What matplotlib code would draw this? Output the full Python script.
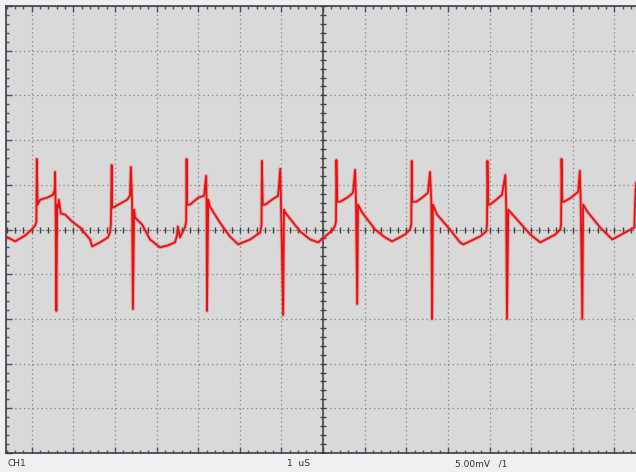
import numpy as np
import matplotlib
matplotlib.use('Agg')
from matplotlib import pyplot as plt

# scope settings
time_per_div = 1.0    # uS
volt_per_div = 5.0    # mV
channel = 'CH1'

# trace, time in uS, voltage in mV
t_us = [
    -7.62, -7.40, -7.16, -7.00, -6.92,
    -6.89, -6.88, -6.86, -6.80, -6.63, -6.49, -6.45, -6.44, -6.43, -6.41, -6.39,
    -6.37, -6.35, -6.30, -6.20, -6.03, -5.84, -5.60, -5.55, -5.36, -5.17, -5.12,
    -5.10, -5.08, -5.07, -5.05, -4.88, -4.71, -4.64, -4.62, -4.59, -4.57, -4.54,
    -4.52, -4.35, -4.16, -3.92, -3.73, -3.56, -3.51, -3.49, -3.44, -3.37, -3.32,
    -3.29, -3.28, -3.27, -3.20, -3.00, -2.86, -2.81, -2.80, -2.79, -2.76, -2.72,
    -2.48, -2.24, -2.04, -1.75, -1.51,
    -1.48, -1.47, -1.45, -1.39, -1.23, -1.08, -1.03, -1.01, -0.96, -0.94, -0.91,
    -0.55, -0.31, -0.12, 0.05, 0.24, 0.29,
    0.31, 0.32, 0.34, 0.41, 0.58, 0.72, 0.77, 0.79, 0.82, 0.84, 0.94,
    1.25, 1.49, 1.66, 1.97, 2.09,
    2.12, 2.13, 2.14, 2.24, 2.38, 2.52, 2.57, 2.60, 2.62, 2.64, 2.74,
    3.05, 3.29, 3.37, 3.77, 3.92,
    3.94, 3.95, 3.97, 4.01, 4.16, 4.30, 4.38, 4.40, 4.42, 4.45, 4.62,
    4.98, 5.22, 5.58, 5.70,
    5.72, 5.73, 5.75, 5.79, 5.96, 6.13, 6.17, 6.19, 6.23, 6.25, 6.35,
    6.66, 6.95, 7.26, 7.48, 7.50, 7.52,
]
v_mv = [
    -0.78, -1.33, -0.67, 0.00, 0.44,
    0.89, 7.89, 2.78, 3.33, 3.56, 3.89, 4.44, 6.44, 3.33, -9.11, 2.78,
    2.44, 3.33, 1.78, 1.67, 0.89, 0.22, -1.11, -1.89, -1.44, -0.89, -0.33,
    0.56, 7.22, 2.44, 2.44, 2.89, 3.33, 3.78, 7.00, 3.33, -8.89, 2.22,
    1.33, 0.56, -1.11, -2.00, -1.78, -1.44, -0.67, 0.33, -0.89, -0.22, 0.22,
    0.89, 7.89, 2.78, 2.78, 3.56, 3.78, 6.00, 3.00, -9.11, 3.33, 2.56,
    0.78, -0.78, -1.67, -1.11, -0.33,
    0.56, 7.67, 2.78, 2.78, 3.33, 3.78, 6.78, 2.78, -9.56, 2.22, 1.89,
    -0.22, -1.11, -1.44, -0.78, 0.00, 0.44,
    0.89, 7.78, 3.11, 3.11, 3.56, 4.11, 6.67, 3.33, -8.33, 2.78, 1.89,
    0.00, -0.89, -1.33, -0.56, 0.00,
    0.56, 7.67, 3.11, 3.11, 3.56, 4.11, 6.44, 3.33, -10.00, 2.78, 1.67,
    0.00, -1.44, -1.67, -0.78, -0.22,
    0.56, 7.67, 2.78, 2.78, 3.33, 3.89, 6.11, 2.78, -10.00, 2.22, 1.33,
    -0.56, -1.44, -0.56, 0.00,
    0.56, 7.89, 3.11, 3.11, 3.56, 4.22, 6.56, 3.33, -10.00, 2.78, 2.00,
    0.22, -1.11, -0.33, 0.22, 3.33, 5.22,
]

x_lim = (-7.62, 7.52)
y_divs = 5

fig = plt.figure(figsize=(6.36, 4.72), dpi=100, facecolor='#efefef')
ax = fig.add_axes([6 / 636, 1 - 453 / 472, 630 / 636, 447 / 472])
ax.set_facecolor('#d9d9d9')

ax.set_xlim(*x_lim)
ax.set_ylim(-y_divs * volt_per_div, y_divs * volt_per_div)

ax.set_xticks(np.arange(-7, 8) * time_per_div)
ax.set_xticks(np.arange(-38, 38) * 0.2 * time_per_div, minor=True)
ax.set_yticks(np.arange(-y_divs, y_divs + 1) * volt_per_div)
ax.set_yticks(np.arange(-25, 26) * 0.2 * volt_per_div, minor=True)
ax.tick_params(which='both', direction='in', top=True, bottom=True,
               left=True, right=False, labelbottom=False, labelleft=False,
               colors='#505060')
ax.tick_params(which='major', length=4, width=1)
ax.tick_params(which='minor', length=2, width=1)

ax.grid(True, which='major', color='#808080', linestyle=(0, (1, 2.5)),
        linewidth=0.9)

for side in ['left', 'top', 'bottom']:
    ax.spines[side].set_color('#3c3c4c')
    ax.spines[side].set_linewidth(1.2)
ax.spines['right'].set_visible(False)

# centre cross with its small marks
ax.axvline(0, color='#404040', lw=1.1, zorder=2)
ax.axhline(0, color='#606060', lw=0.8, linestyle=(0, (1, 2)), zorder=2)
marks_x = np.arange(-38, 38) * 0.2 * time_per_div
marks_y = np.arange(-25, 26) * 0.2 * volt_per_div
ax.plot(marks_x, np.zeros_like(marks_x), linestyle='none', marker='|',
        markersize=4, color='#404040', markeredgewidth=1, zorder=2)
ax.plot(np.zeros_like(marks_y), marks_y, linestyle='none', marker='_',
        markersize=4, color='#404040', markeredgewidth=1, zorder=2)

# trace
ax.plot(t_us, v_mv, color='#f04040', lw=2.8, alpha=0.35, zorder=3)
ax.plot(t_us, v_mv, color='#e81010', lw=1.3, zorder=4)

# status bar
fig.text(8 / 636, 1 - 464 / 472, channel, fontsize=6.5, color='#303030',
         va='center', ha='left')
fig.text(287 / 636, 1 - 464 / 472, '1  uS', fontsize=6.5, color='#303030',
         va='center', ha='left')
fig.text(455 / 636, 1 - 464 / 472, '5.00mV   /1', fontsize=6.5,
         color='#303030', va='center', ha='left')

fig.savefig('out.png', dpi=100, facecolor=fig.get_facecolor())
